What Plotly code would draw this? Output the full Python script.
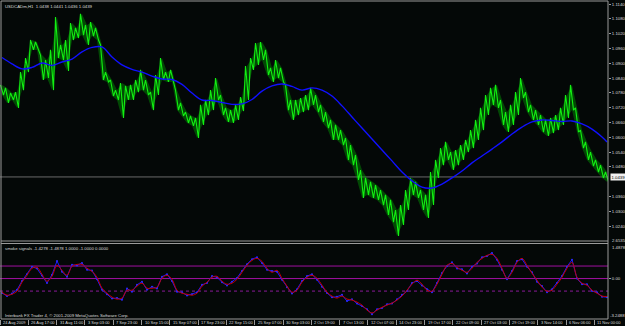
import numpy as np
import plotly.graph_objects as go

# ---------------- data ----------------
symbol_header = "USDCADm,H1  1.0438 1.0441 1.0436 1.0439"
indicator_header = "smoke signals -1.4278 -1.4878 1.0000 -1.0000 0.0000"
copyright_text = "Interbank FX Trader 4, \u00a9 2001-2009 MetaQuotes Software Corp."
last_price = 1.0439

high = [1.0812, 1.0800, 1.0779, 1.0783, 1.0864, 1.0921, 1.0994, 1.0986, 1.0933, 1.0913,
        1.0954, 1.1087, 1.0974, 1.0994, 1.1063, 1.1043, 1.1100, 1.1055, 1.1067, 1.1043,
        1.0974, 1.0864, 1.0832, 1.0791, 1.0820, 1.0808, 1.0812, 1.0832, 1.0873, 1.0832,
        1.0783, 1.0852, 1.0921, 1.0864, 1.0873, 1.0791, 1.0739, 1.0702, 1.0686, 1.0678,
        1.0731, 1.0751, 1.0791, 1.0840, 1.0771, 1.0719, 1.0710, 1.0731, 1.0763, 1.0889,
        1.0921, 1.0982, 1.0986, 1.0954, 1.0881, 1.0913, 1.0881, 1.0812, 1.0751, 1.0751,
        1.0759, 1.0771, 1.0800, 1.0771, 1.0731, 1.0702, 1.0670, 1.0650, 1.0629, 1.0597,
        1.0568, 1.0528, 1.0467, 1.0435, 1.0419, 1.0406, 1.0386, 1.0366, 1.0346, 1.0305,
        1.0325, 1.0386, 1.0435, 1.0419, 1.0386, 1.0366, 1.0459, 1.0508, 1.0556, 1.0581,
        1.0540, 1.0548, 1.0568, 1.0589, 1.0629, 1.0670, 1.0719, 1.0771, 1.0800, 1.0812,
        1.0751, 1.0702, 1.0731, 1.0783, 1.0840, 1.0783, 1.0731, 1.0710, 1.0690, 1.0670,
        1.0678, 1.0690, 1.0719, 1.0771, 1.0812, 1.0719, 1.0629, 1.0581, 1.0540, 1.0508,
        1.0487, 1.0459]

low = [1.0771, 1.0739, 1.0751, 1.0719, 1.0791, 1.0864, 1.0954, 1.0954, 1.0832, 1.0840,
       1.0791, 1.0921, 1.0913, 1.0869, 1.0994, 1.1002, 1.1014, 1.0974, 1.1010, 1.0994,
       1.0832, 1.0824, 1.0767, 1.0751, 1.0678, 1.0751, 1.0751, 1.0783, 1.0791, 1.0771,
       1.0710, 1.0771, 1.0832, 1.0824, 1.0824, 1.0710, 1.0686, 1.0658, 1.0646, 1.0597,
       1.0650, 1.0690, 1.0710, 1.0751, 1.0690, 1.0662, 1.0658, 1.0670, 1.0706, 1.0751,
       1.0873, 1.0893, 1.0913, 1.0852, 1.0824, 1.0840, 1.0824, 1.0710, 1.0670, 1.0690,
       1.0702, 1.0710, 1.0731, 1.0702, 1.0662, 1.0637, 1.0589, 1.0589, 1.0568, 1.0508,
       1.0487, 1.0427, 1.0354, 1.0366, 1.0354, 1.0346, 1.0325, 1.0285, 1.0256, 1.0200,
       1.0244, 1.0305, 1.0366, 1.0354, 1.0305, 1.0273, 1.0325, 1.0435, 1.0487, 1.0508,
       1.0467, 1.0487, 1.0508, 1.0540, 1.0556, 1.0589, 1.0629, 1.0690, 1.0731, 1.0719,
       1.0650, 1.0621, 1.0650, 1.0690, 1.0759, 1.0702, 1.0670, 1.0650, 1.0621, 1.0605,
       1.0617, 1.0629, 1.0650, 1.0678, 1.0710, 1.0621, 1.0556, 1.0508, 1.0483, 1.0459,
       1.0435, 1.0419]

ma_cols = list(range(0, 121, 2)) + [121]
moving_avg = [1.0923, 1.0897, 1.0877, 1.0883, 1.0901, 1.0891, 1.0905, 1.0917, 1.0946, 1.0964,
              1.0966, 1.0925, 1.0893, 1.0875, 1.0864, 1.0848, 1.0836, 1.0834, 1.0814, 1.0779,
              1.0751, 1.0749, 1.0741, 1.0733, 1.0735, 1.0753, 1.0787, 1.0808, 1.0816, 1.0806,
              1.0791, 1.0800, 1.0791, 1.0767, 1.0727, 1.0682, 1.0637, 1.0593, 1.0548, 1.0504,
              1.0459, 1.0423, 1.0398, 1.0394, 1.0410, 1.0435, 1.0463, 1.0496, 1.0524, 1.0552,
              1.0581, 1.0613, 1.0641, 1.0662, 1.0670, 1.0668, 1.0664, 1.0666, 1.0654, 1.0633,
              1.0601, 1.0581]

sig_smooth = [-1.09, -1.33, -1.25, -1.01, -0.29, 0.26, 0.82, 0.90, 0.34, -0.21,
              0.18, 1.06, 0.66, 0.26, 0.98, 1.13, 1.13, 0.82, 0.58, 0.10,
              -0.77, -1.17, -1.48, -1.64, -1.56, -0.93, -0.93, -0.61, -0.37, -0.77,
              -0.77, -0.69, 0.02, 0.26, -0.06, -0.93, -1.17, -1.25, -1.33, -1.17,
              -0.61, -0.29, 0.10, 0.18, -0.21, -0.45, -0.37, -0.06, 0.50, 1.06,
              1.45, 1.61, 1.37, 0.82, 0.50, 0.66, 0.02, -0.61, -1.09, -0.93,
              -0.29, 0.10, 0.26, 0.02, -0.53, -1.09, -1.40, -1.56, -1.40, -1.64,
              -1.72, -1.88, -2.12, -2.52, -2.75, -2.52, -2.29, -2.12, -1.96, -1.72,
              -1.40, -0.93, -0.45, -0.13, -0.45, -0.93, -1.01, -0.45, 0.34, 1.06,
              1.21, 0.90, 0.66, 0.50, 0.82, 1.29, 1.61, 1.85, 1.93, 1.61,
              0.82, 0.02, 0.50, 1.29, 1.61, 1.06, 0.42, -0.13, -0.69, -1.01,
              -0.93, -0.45, 0.10, 0.82, 1.29, 0.10, -0.37, -0.53, -0.93, -1.17,
              -1.40, -1.43]

sig_raw = [-1.15, -1.40, -1.20, -0.90, -0.20, 0.35, 0.95, 0.80, 0.25, -0.35,
           0.30, 1.40, 0.55, 0.15, 1.10, 1.05, 1.25, 0.70, 0.65, -0.05,
           -0.90, -1.25, -1.60, -1.55, -1.70, -0.80, -1.05, -0.50, -0.25, -0.90,
           -0.65, -0.80, 0.15, 0.35, -0.20, -1.05, -1.10, -1.35, -1.25, -1.10,
           -0.50, -0.35, 0.20, 0.10, -0.30, -0.55, -0.25, 0.05, 0.60, 1.15,
           1.55, 1.70, 1.25, 0.70, 0.60, 0.55, -0.10, -0.70, -1.20, -0.85,
           -0.20, 0.20, 0.35, -0.10, -0.65, -1.15, -1.50, -1.45, -1.30, -1.80,
           -1.65, -2.00, -2.20, -2.45, -2.85, -2.45, -2.35, -2.05, -2.00, -1.65,
           -1.30, -1.00, -0.35, -0.20, -0.55, -0.85, -1.10, -0.35, 0.45, 1.00,
           1.30, 0.80, 0.75, 0.40, 0.95, 1.20, 1.70, 1.80, 2.05, 1.50,
           0.70, -0.05, 0.60, 1.40, 1.55, 0.95, 0.50, -0.25, -0.60, -1.10,
           -0.85, -0.35, 0.20, 0.95, 1.50, 0.00, -0.45, -0.45, -1.00, -1.10,
           -1.45, -1.49]

levels = [1.0, 0.0, -1.0]

price_ticks = [1.0240, 1.0300, 1.0360, 1.0480, 1.0540, 1.0600, 1.0660, 1.0720,
               1.0780, 1.0840, 1.0900, 1.0960, 1.1020, 1.1080, 1.1140]
price_tick_labels = ["1.0240", "1.0300", "1.0360", "1.0480", "1.0540", "1.0600", "1.0660", "1.0720",
                     "1.0780", "1.0840", "1.0900", "1.0960", "1.1020", "1.1080", "1.1140"]

date_labels = ["24 Aug 2009", "26 Aug 17:00", "31 Aug 11:00", "3 Sep 03:00", "7 Sep 23:00",
               "10 Sep 15:00", "15 Sep 07:00", "17 Sep 23:00", "22 Sep 15:00", "25 Sep 07:00",
               "30 Sep 03:00", "2 Oct 19:00", "7 Oct 13:00", "12 Oct 07:00", "14 Oct 23:00",
               "19 Oct 17:00", "22 Oct 09:00", "27 Oct 03:00", "29 Oct 19:00", "3 Nov 14:00",
               "6 Nov 06:00", "11 Nov 00:00"]

sub_scale_top = "2.6535"
sub_scale_second = "1.4878"
sub_scale_bottom = "-3.2488"

# ---------------- styling / layout ----------------
W, H = 625, 326
BG = "#040807"
GRID = "#9a9a9a"
TXT = "#dcdcdc"
FONT = "Liberation Sans"
FS = 4.3
FS_DATE = 4.0

def px_x(p):
    return p / W

def px_y(p):
    return 1 - p / H

cols = np.arange(len(high))
zx, zy = [], []
for i in cols:
    zx += [i - 0.3, i + 0.3]
    zy += [high[i], low[i]]

tick_pos = np.arange(len(date_labels)) * 5.66 - 0.4

fig = go.Figure()
fig.add_trace(go.Scatter(x=cols, y=low, mode="lines", line=dict(width=0),
                         xaxis="x", yaxis="y", hoverinfo="skip"))
fig.add_trace(go.Scatter(x=cols, y=high, mode="lines", line=dict(width=0),
                         fill="tonexty", fillcolor="rgba(0,170,0,0.40)",
                         xaxis="x", yaxis="y", hoverinfo="skip"))
fig.add_trace(go.Scatter(x=zx, y=zy, mode="lines", line=dict(color="#12f012", width=1.1),
                         xaxis="x", yaxis="y", hoverinfo="skip"))
fig.add_trace(go.Scatter(x=ma_cols, y=moving_avg, mode="lines",
                         line=dict(color="#1010ff", width=1.4, shape="spline"),
                         xaxis="x", yaxis="y"))
fig.add_trace(go.Scatter(x=cols, y=sig_raw, mode="lines+markers",
                         line=dict(color="#1a1aff", width=1),
                         marker=dict(size=2, color="#2a2aff"),
                         xaxis="x2", yaxis="y2"))
fig.add_trace(go.Scatter(x=cols, y=sig_smooth, mode="lines",
                         line=dict(color="#c80000", width=1, shape="spline"),
                         xaxis="x2", yaxis="y2"))

shapes = []
for lv, dash, col in zip(levels, ["solid", "solid", "dot"], ["#a010a0", "#a010a0", "#8a1a9a"]):
    shapes.append(dict(type="line", xref="x2 domain", yref="y2", x0=0, x1=1, y0=lv, y1=lv,
                       line=dict(color=col, width=1, dash=dash), layer="below"))
shapes.append(dict(type="line", xref="x domain", yref="y", x0=0, x1=1, y0=last_price, y1=last_price,
                   line=dict(color="#6a6a6a", width=1), layer="below"))
xr = px_x(608)
for (x0, y0, x1, y1) in [(1, 1, 608, 1), (1, 1, 1, 319), (608, 1, 608, 319),
                         (1, 241, 608, 241), (1, 243.5, 608, 243.5), (1, 319, 608, 319)]:
    shapes.append(dict(type="line", xref="paper", yref="paper",
                       x0=px_x(x0), x1=px_x(x1), y0=px_y(y0), y1=px_y(y1),
                       line=dict(color=GRID, width=1)))

annotations = [
    dict(text=symbol_header, x=px_x(3), y=px_y(6.5)),
    dict(text=indicator_header, x=px_x(3), y=px_y(248.5)),
    dict(text=copyright_text, x=px_x(3), y=px_y(315)),
    dict(text=sub_scale_top, x=px_x(610), y=px_y(240.5)),
    dict(text=sub_scale_second, x=px_x(610), y=px_y(247.5)),
    dict(text=sub_scale_bottom, x=px_x(608), y=px_y(315.5)),
]
for a in annotations:
    a.update(xref="paper", yref="paper", xanchor="left", yanchor="middle", showarrow=False,
             font=dict(family=FONT, size=FS, color=TXT))
for tv, lab in zip(tick_pos, date_labels):
    annotations.append(dict(text=lab, xref="x2", yref="paper", x=tv, y=px_y(322.8),
                            xanchor="left", yanchor="middle", xshift=1, showarrow=False,
                            font=dict(family=FONT, size=FS_DATE, color=TXT)))
annotations.append(dict(text="1.0439", xref="paper", yref="y", x=px_x(609.5), y=last_price,
                        xanchor="left", yanchor="middle", showarrow=False,
                        bgcolor="#f0f0f0", borderpad=0.5,
                        font=dict(family=FONT, size=FS, color="#000000")))

fig.update_layout(
    template="none",
    width=W, height=H, autosize=False,
    margin=dict(l=0, r=0, t=0, b=0),
    paper_bgcolor=BG, plot_bgcolor=BG,
    showlegend=False,
    shapes=shapes, annotations=annotations,
    xaxis=dict(domain=[0, xr], range=[-0.4, 121.2], showticklabels=False, showgrid=False,
               zeroline=False, showline=False, ticks="", anchor="y", automargin=False),
    xaxis2=dict(domain=[0, xr], range=[-0.4, 121.2], matches="x", anchor="y2",
                tickmode="array", tickvals=tick_pos, ticktext=[""] * len(date_labels),
                ticks="outside", ticklen=5, tickcolor=GRID, tickwidth=1,
                showticklabels=False,
                showgrid=False, zeroline=False, showline=False, automargin=False),
    yaxis=dict(domain=[px_y(241), px_y(1)], range=[1.01793, 1.11522], side="right", anchor="x",
               tickmode="array", tickvals=price_ticks, ticktext=price_tick_labels,
               ticks="outside", ticklen=2, tickcolor=GRID,
               tickfont=dict(family=FONT, size=FS, color=TXT),
               showgrid=False, zeroline=False, showline=False, automargin=False),
    yaxis2=dict(domain=[px_y(319), px_y(243.5)], range=[-3.23, 2.80], side="right", anchor="x2",
                tickmode="array", tickvals=[0], ticktext=["0.00"],
                ticks="outside", ticklen=2, tickcolor=GRID,
                tickfont=dict(family=FONT, size=FS, color=TXT),
                showgrid=False, zeroline=False, showline=False, automargin=False),
)

fig.write_html("out.html")
